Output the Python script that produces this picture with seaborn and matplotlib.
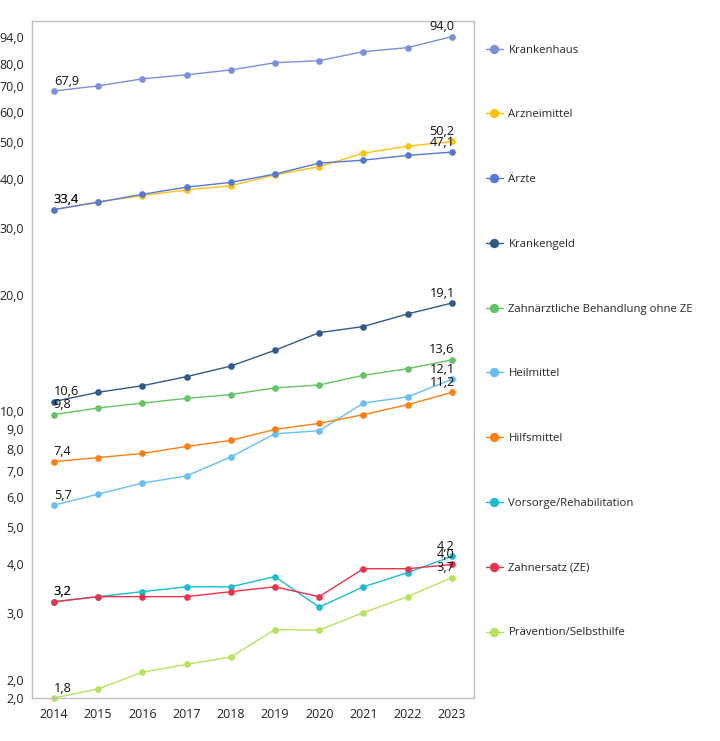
import pandas as pd
import seaborn as sns
import matplotlib.pyplot as plt
from matplotlib.ticker import FixedLocator, NullLocator

years = [2014, 2015, 2016, 2017, 2018, 2019, 2020, 2021, 2022, 2023]

categories = [
    "Krankenhaus", "Arzneimittel", "Ärzte", "Krankengeld",
    "Zahnärztliche Behandlung ohne ZE", "Heilmittel", "Hilfsmittel",
    "Vorsorge/Rehabilitation", "Zahnersatz (ZE)", "Prävention/Selbsthilfe",
]

krankenhaus = [67.9, 70.0, 73.0, 74.8, 77.0, 80.4, 81.4, 85.9, 88.0, 94.0]
arzneimittel = [33.4, 35.0, 36.3, 37.6, 38.5, 41.1, 43.2, 46.8, 48.8, 50.2]
aerzte = [33.4, 34.9, 36.6, 38.2, 39.3, 41.3, 44.1, 44.9, 46.2, 47.1]
krankengeld = [10.6, 11.2, 11.65, 12.3, 13.1, 14.4, 16.0, 16.6, 17.9, 19.1]
zahnaerztlich = [9.8, 10.2, 10.5, 10.8, 11.05, 11.5, 11.7, 12.4, 12.9, 13.6]
heilmittel = [5.7, 6.09, 6.51, 6.79, 7.61, 8.74, 8.9, 10.5, 10.9, 12.1]
hilfsmittel = [7.4, 7.58, 7.77, 8.1, 8.4, 8.97, 9.3, 9.8, 10.4, 11.2]
vorsorge = [3.2, 3.3, 3.4, 3.5, 3.5, 3.72, 3.1, 3.5, 3.81, 4.2]
zahnersatz = [3.2, 3.3, 3.3, 3.3, 3.4, 3.5, 3.3, 3.9, 3.9, 4.0]
praevention = [1.8, 1.9, 2.1, 2.2, 2.3, 2.71, 2.7, 3.0, 3.3, 3.7]

series = [krankenhaus, arzneimittel, aerzte, krankengeld, zahnaerztlich,
          heilmittel, hilfsmittel, vorsorge, zahnersatz, praevention]

colors = ["#7B8FE0", "#FFC20A", "#5478D8", "#2F5B8C", "#63C463",
          "#66BEF5", "#FF7F0E", "#17BDD4", "#E8334A", "#B7E25B"]

ytick_values = [1.8, 2, 3, 4, 5, 6, 7, 8, 9, 10, 20, 30, 40, 50, 60, 70, 80, 94]
ytick_labels = ["2,0", "2,0", "3,0", "4,0", "5,0", "6,0", "7,0", "8,0", "9,0",
                "10,0", "20,0", "30,0", "40,0", "50,0", "60,0", "70,0", "80,0", "94,0"]


def fmt(v):
    return f"{v:.1f}".replace(".", ",")


def main():
    sns.set_style("white")
    plt.rcParams["font.family"] = ["Open Sans", "DejaVu Sans"]

    rows = []
    for name, vals in zip(categories, series):
        for yr, v in zip(years, vals):
            rows.append({"Jahr": yr, "Wert": v, "Kategorie": name})
    df = pd.DataFrame(rows)

    fig = plt.figure(figsize=(7.2, 7.41), dpi=100)
    ax = fig.add_axes([31.7 / 720, 1 - 698 / 741, (474 - 31.7) / 720, (698 - 21.3) / 741])

    sns.lineplot(data=df, x="Jahr", y="Wert", hue="Kategorie", hue_order=categories,
                 palette=colors, marker="o", markersize=4.8, markeredgewidth=0,
                 linewidth=1.0, ax=ax, legend=True)
    for ln in ax.lines:
        ln.set_clip_on(False)

    ax.set_yscale("log")
    ax.set_ylim(1.8, 103)
    ax.set_xlim(2013.5, 2023.5)
    ax.yaxis.set_major_locator(FixedLocator(ytick_values))
    ax.yaxis.set_minor_locator(NullLocator())
    ax.set_yticklabels(ytick_labels)
    ax.set_xticks(years)
    ax.set_xlabel("")
    ax.set_ylabel("")

    for sp in ax.spines.values():
        sp.set_color("#BFBFBF")
        sp.set_linewidth(1)
    ax.tick_params(axis="both", colors="#BFBFBF", labelcolor="#222222",
                   length=4, width=1, labelsize=9, pad=1.5)
    ax.tick_params(axis="x", pad=3)

    # value labels at first and last year
    for name, vals in zip(categories, series):
        ax.annotate(fmt(vals[0]), (years[0], vals[0]), xytext=(0, 2.5),
                    textcoords="offset points", ha="left", va="bottom",
                    fontsize=9.2, color="#111111")
        ax.annotate(fmt(vals[-1]), (years[-1], vals[-1]), xytext=(2, 2.5),
                    textcoords="offset points", ha="right", va="bottom",
                    fontsize=9.2, color="#111111")

    handles, labels = ax.get_legend_handles_labels()
    ax.get_legend().remove()
    fig.legend(handles, labels, loc="upper left", bbox_to_anchor=(480 / 720, 1 - 39 / 741),
               frameon=False, fontsize=8.2, borderpad=0, handlelength=1.5,
               handletextpad=0.5, labelspacing=4.72, markerscale=1.4)

    fig.savefig("out.png", dpi=100)
    plt.close(fig)


if __name__ == "__main__":
    main()
